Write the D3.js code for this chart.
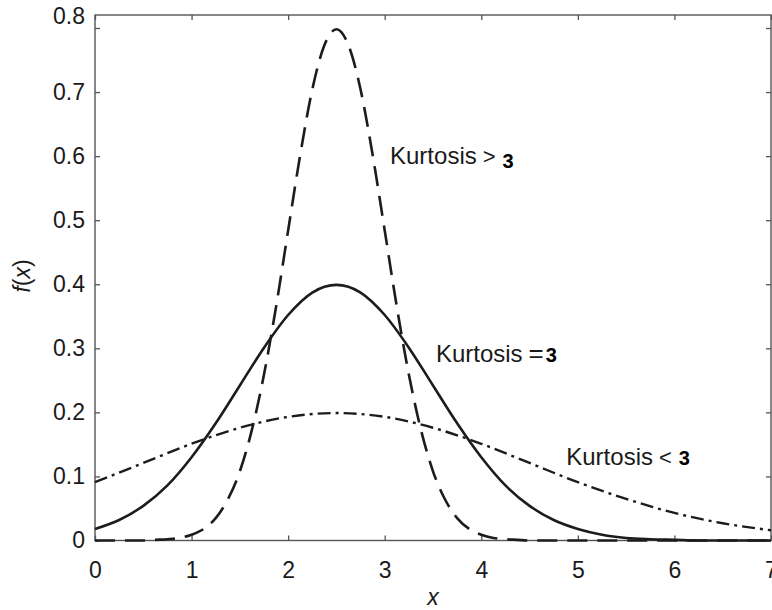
<!DOCTYPE html>
<html>
<head>
<meta charset="utf-8">
<script src="https://cdn.jsdelivr.net/npm/d3@7"></script>
<style>
  body { margin: 0; background: #fff; }
  text { font-family: "Liberation Sans", Arial, sans-serif; fill: #1a1a1a; }
</style>
</head>
<body>
<svg id="chart"></svg>
<script>
// values
const xTicks = [0, 1, 2, 3, 4, 5, 6, 7];
const yTicks = [0, 0.1, 0.2, 0.3, 0.4, 0.5, 0.6, 0.7, 0.8];

// Kurtosis > 3 (dashed)
const xHigh = [0, 0.25, 0.5, 0.625, 0.75, 0.875, 1, 1.125, 1.25, 1.375, 1.5, 1.625, 1.75, 1.875, 2,
  2.125, 2.25, 2.375, 2.5, 2.625, 2.75, 2.875, 3, 3.125, 3.25, 3.375, 3.5, 3.625, 3.75, 3.875, 4,
  4.125, 4.25, 4.375, 4.5, 5, 6, 7];
const fHigh = [0, 0, 0, 0.001, 0.002, 0.004, 0.009, 0.018, 0.035, 0.064, 0.108, 0.173, 0.259, 0.365, 0.484,
  0.602, 0.704, 0.773, 0.798, 0.773, 0.704, 0.602, 0.484, 0.365, 0.259, 0.173, 0.108, 0.064, 0.035, 0.018, 0.009,
  0.004, 0.002, 0.001, 0, 0, 0, 0];

// Kurtosis = 3 (solid)
const xMid = [0, 0.25, 0.5, 0.75, 1, 1.25, 1.5, 1.75, 2, 2.25, 2.5, 2.75, 3, 3.25, 3.5, 3.75, 4,
  4.25, 4.5, 4.75, 5, 5.25, 5.5, 5.75, 6, 6.25, 6.5, 6.75, 7];
const fMid = [0.018, 0.032, 0.054, 0.086, 0.130, 0.183, 0.242, 0.301, 0.352, 0.387, 0.399, 0.387, 0.352,
  0.301, 0.242, 0.183, 0.130, 0.086, 0.054, 0.032, 0.018, 0.009, 0.004, 0.002, 0.001, 0, 0, 0, 0];

// Kurtosis < 3 (dash-dot)
const xLow = [0, 0.5, 1, 1.5, 2, 2.5, 3, 3.5, 4, 4.5, 5, 5.5, 6, 6.5, 7];
const fLow = [0.091, 0.121, 0.151, 0.176, 0.193, 0.199, 0.193, 0.176, 0.151, 0.121, 0.091, 0.065, 0.043, 0.027, 0.016];

const labelText = ["Kurtosis", "Kurtosis", "Kurtosis"];
const labelSign = [">", "=", "<"];
const labelNum = ["3", "3", "3"];

const width = 772, height = 610;
const plotLeft = 95, plotRight = 771, plotTop = 15, plotBottom = 540.5;

const svg = d3.select("#chart")
  .attr("width", width)
  .attr("height", height);

const xScale = d3.scaleLinear().domain([0, 7]).range([plotLeft, plotRight]);
const yScale = d3.scaleLinear().domain([0, 0.8]).range([plotBottom, 28]);

const axisColor = "#555";

// frame
svg.append("rect")
  .attr("x", plotLeft).attr("y", plotTop)
  .attr("width", plotRight - plotLeft).attr("height", plotBottom - plotTop)
  .attr("fill", "none")
  .attr("stroke", axisColor)
  .attr("stroke-width", 1.4);

const xAxis = d3.axisBottom(xScale).tickValues(xTicks).tickSize(-5).tickPadding(21)
  .tickFormat(d3.format("d"));
const yAxis = d3.axisLeft(yScale).tickValues(yTicks).tickSize(-5).tickPadding(10)
  .tickFormat(d => d === 0 ? "0" : d3.format(".1f")(d));

const gx = svg.append("g")
  .attr("transform", "translate(0," + plotBottom + ")")
  .call(xAxis);
const gy = svg.append("g")
  .attr("transform", "translate(" + plotLeft + ",0)")
  .call(yAxis);
svg.append("g")
  .attr("transform", "translate(0," + plotTop + ")")
  .call(d3.axisTop(xScale).tickValues(xTicks).tickSize(-5).tickFormat(""));
svg.append("g")
  .attr("transform", "translate(" + plotRight + ",0)")
  .call(d3.axisRight(yScale).tickValues(yTicks).tickSize(-5).tickFormat(""));

svg.selectAll(".domain").remove();
svg.selectAll(".tick line").attr("stroke", axisColor).attr("stroke-width", 1.3);
svg.selectAll(".tick text")
  .attr("font-size", 23)
  .attr("font-family", "Liberation Sans, Arial, sans-serif")
  .attr("fill", "#1a1a1a");

// the top label sits up against the frame
gy.selectAll(".tick text").filter(d => d === 0.8).attr("y", -11.5);

const line = d3.line()
  .x(d => xScale(d[0]))
  .y(d => yScale(d[1]))
  .curve(d3.curveMonotoneX);

const lineColor = "#1c1c1c";

svg.append("path")
  .datum(xLow.map((x, i) => [x, fLow[i]]))
  .attr("fill", "none")
  .attr("stroke", lineColor)
  .attr("stroke-width", 2.4)
  .attr("stroke-dasharray", "13,5,3,5")
  .attr("d", line);

svg.append("path")
  .datum(xMid.map((x, i) => [x, fMid[i]]))
  .attr("fill", "none")
  .attr("stroke", lineColor)
  .attr("stroke-width", 2.6)
  .attr("d", line);

svg.append("path")
  .datum(xHigh.map((x, i) => [x, fHigh[i]]))
  .attr("fill", "none")
  .attr("stroke", lineColor)
  .attr("stroke-width", 2.6)
  .attr("stroke-dasharray", "20,10")
  .attr("d", line);

// curve labels
const labelPos = [[3.055, 0.587], [3.53, 0.279], [4.88, 0.118]];
labelText.forEach((t, i) => {
  const txt = svg.append("text")
    .attr("x", xScale(labelPos[i][0]))
    .attr("y", yScale(labelPos[i][1]))
    .attr("font-size", 24)
    .attr("fill", "#2a2a3a");
  txt.append("tspan").text(t);
  txt.append("tspan").attr("dx", 6).attr("font-size", i === 1 ? 26 : 22).text(labelSign[i]);
  txt.append("tspan").attr("dx", i === 1 ? 2 : 7).attr("dy", i === 0 ? 4 : 0)
    .attr("font-size", 20).attr("font-weight", "bold").attr("fill", "#000").text(labelNum[i]);
});

// axis titles
svg.append("text")
  .attr("x", xScale(3.5))
  .attr("y", 605)
  .attr("text-anchor", "middle")
  .attr("font-size", 23)
  .attr("font-style", "italic")
  .text("x");

svg.append("text")
  .attr("transform", "translate(30,276) rotate(-90)")
  .attr("text-anchor", "middle")
  .attr("font-size", 23)
  .call(t => {
    t.append("tspan").attr("font-style", "italic").text("f");
    t.append("tspan").text("(");
    t.append("tspan").attr("font-style", "italic").text("x");
    t.append("tspan").text(")");
  });
</script>
</body>
</html>
